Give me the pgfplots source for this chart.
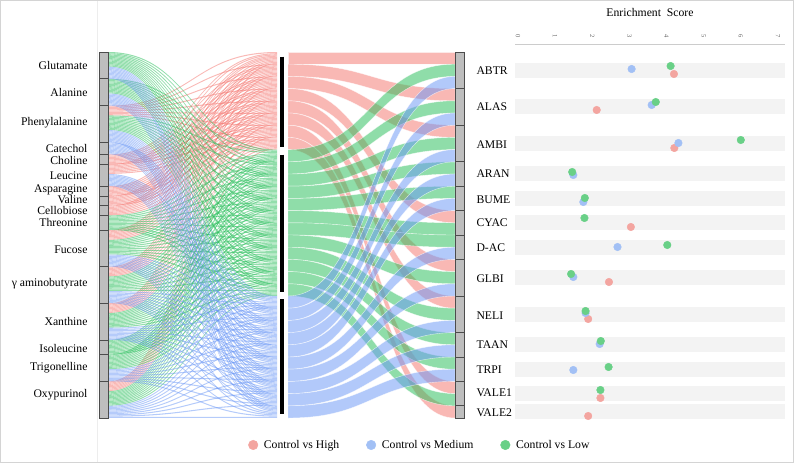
\documentclass[border=0pt]{standalone}
\usepackage{pgfplots}
\usepackage{pgfplotstable}
\pgfplotsset{compat=1.18}
\usepackage{fontspec}
\setmainfont{Liberation Serif}

\definecolor{cH}{RGB}{244,118,112}
\definecolor{cL}{RGB}{40,190,90}
\definecolor{cM}{RGB}{108,152,245}
\definecolor{dH}{RGB}{243,165,160}
\definecolor{dL}{RGB}{105,208,135}
\definecolor{dM}{RGB}{162,192,245}
\definecolor{strat}{RGB}{190,190,190}
\definecolor{band}{RGB}{243,243,243}

\newcommand\unitpx{1.22}
\newcommand\ytop{52}
\newcommand\lab{\fontsize{11.7}{13}\selectfont}

% comparison: 1 = Control vs High, 2 = Control vs Low, 3 = Control vs Medium
% metabolite -> comparison links: comparison, first line on the left, rank of metabolite in comparison
\pgfplotstableread{
comp lstart rank
1 44 0
1 84 1
1 92 2
1 110 3
1 118 4
1 126 5
1 146 6
1 176 7
1 206 8
1 270 9
2 0 0
2 22 1
2 52 2
2 134 3
2 154 4
2 184 5
2 214 6
2 236 7
2 248 8
2 278 9
3 12 0
3 34 1
3 64 2
3 74 3
3 100 4
3 166 5
3 196 6
3 226 7
3 260 8
3 290 9
}\leftlinks

% comparison -> pathway links: comparison, start in the middle, start on the right
\pgfplotstableread{
comp mstart rstart
1 0 0
1 10 30
1 20 60
1 30 130
1 40 170
1 50 200
1 60 270
1 70 290
2 80 10
2 90 40
2 100 70
2 110 90
2 120 110
2 130 140
2 140 150
2 150 180
2 160 210
2 170 230
2 180 250
2 190 280
3 200 20
3 210 50
3 220 80
3 230 100
3 240 120
3 250 160
3 260 190
3 270 220
3 280 240
3 290 260
}\rightlinks

\pgfplotstableread{
start n
0 22
22 22
44 30
74 10
84 8
92 18
110 8
118 8
126 8
134 12
146 30
176 30
206 30
236 12
248 22
270 30
}\leftstrata

\pgfplotstableread{
start n
0 30
30 30
60 30
90 20
110 20
130 20
150 20
170 30
200 30
230 20
250 20
270 20
290 10
}\rightstrata

% dot plot: row bands (height from bottom)
\pgfplotstableread{
xc xe yc
3.555 3.635 392.7
3.555 3.635 356.1
3.555 3.635 319.5
3.555 3.635 289.0
3.555 3.635 264.6
3.555 3.635 240.2
3.555 3.635 215.8
3.555 3.635 185.3
3.555 3.635 148.7
3.555 3.635 118.2
3.555 3.635 93.8
3.555 3.635 69.4
3.555 3.635 51.1
}\bands

\pgfplotstableread{
score y
4.20 389
2.12 353
4.21 315
3.04 236
2.45 181
1.89 144
2.22 65
1.89 47
}\high

\pgfplotstableread{
score y
3.06 394
3.60 358
4.32 320
1.49 288
1.76 261
2.68 216
1.49 186
1.82 150
2.20 119
1.49 93
}\medium

\pgfplotstableread{
score y
4.11 397
3.71 361
6.00 323
1.46 291
1.80 265
1.79 245
4.02 218
1.43 189
1.82 152
2.23 122
2.44 96
2.22 73
}\low

\begin{document}
\begin{tikzpicture}
\begin{axis}[
  at={(0pt,0pt)}, anchor=south west,
  scale only axis, width=794pt, height=463pt,
  xmin=0, xmax=794, ymin=0, ymax=463, y dir=reverse,
  hide axis, clip=false,
]
\pgfplotsextra{%
  \draw[black!17, line width=1.3pt] (axis cs:0.65,0.65) rectangle (axis cs:793.35,462.35);
  \draw[black!7, line width=0.6pt] (axis cs:97.5,1.3) -- (axis cs:97.5,461.7);
  % left ribbons (thin lines)
  \pgfplotstablegetrowsof{\leftlinks}\pgfmathtruncatemacro\nr{\pgfplotsretval-1}%
  \foreach \r in {0,...,\nr}{%
    \pgfplotstablegetelem{\r}{comp}\of\leftlinks\edef\cc{\pgfplotsretval}%
    \pgfplotstablegetelem{\r}{lstart}\of\leftlinks\edef\ls{\pgfplotsretval}%
    \pgfplotstablegetelem{\r}{rank}\of\leftlinks\edef\rk{\pgfplotsretval}%
    \ifcase\cc\relax\or\def\np{7}\def\ms{0}\def\col{cH}\or\def\np{11}\def\ms{80}\def\col{cL}\or\def\np{9}\def\ms{200}\def\col{cM}\fi
    \foreach \k in {0,...,\np}{%
      \pgfmathsetmacro\ya{\ytop+(\ls+\k)*\unitpx}%
      \pgfmathsetmacro\yab{\ya+1.05}%
      \pgfmathsetmacro\yb{\ytop+(\ms+10*\k+\rk)*\unitpx}%
      \pgfmathsetmacro\ybb{\yb+1.05}%
      \fill[\col, fill opacity=0.5] (axis cs:108,\ya) .. controls (axis cs:192.5,\ya) and (axis cs:192.5,\yb) .. (axis cs:277,\yb) -- (axis cs:277,\ybb) .. controls (axis cs:192.5,\ybb) and (axis cs:192.5,\yab) .. (axis cs:108,\yab) -- cycle;
    }%
  }%
  % right ribbons
  \pgfplotstablegetrowsof{\rightlinks}\pgfmathtruncatemacro\nr{\pgfplotsretval-1}%
  \foreach \r in {0,...,\nr}{%
    \pgfplotstablegetelem{\r}{comp}\of\rightlinks\edef\cc{\pgfplotsretval}%
    \pgfplotstablegetelem{\r}{mstart}\of\rightlinks\edef\ms{\pgfplotsretval}%
    \pgfplotstablegetelem{\r}{rstart}\of\rightlinks\edef\rs{\pgfplotsretval}%
    \ifcase\cc\relax\or\def\col{cH}\or\def\col{cL}\or\def\col{cM}\fi
    \pgfmathsetmacro\ya{\ytop+\ms*\unitpx}%
    \pgfmathsetmacro\yab{\ya+10*\unitpx}%
    \pgfmathsetmacro\yb{\ytop+\rs*\unitpx}%
    \pgfmathsetmacro\ybb{\yb+10*\unitpx}%
    \filldraw[fill=\col, fill opacity=0.52, draw=white, draw opacity=0.7, line width=0.4pt] (axis cs:288,\ya) .. controls (axis cs:371.5,\ya) and (axis cs:371.5,\yb) .. (axis cs:455,\yb) -- (axis cs:455,\ybb) .. controls (axis cs:371.5,\ybb) and (axis cs:371.5,\yab) .. (axis cs:288,\yab) -- cycle;
  }%
  % strata
  \foreach \r in {0,...,15}{%
    \pgfplotstablegetelem{\r}{start}\of\leftstrata\edef\s{\pgfplotsretval}%
    \pgfplotstablegetelem{\r}{n}\of\leftstrata\edef\n{\pgfplotsretval}%
    \pgfmathsetmacro\ya{\ytop+\s*\unitpx}\pgfmathsetmacro\yb{\ya+\n*\unitpx}%
    \filldraw[fill=strat, draw=black!70, line width=0.8pt] (axis cs:99.5,\ya) rectangle (axis cs:108,\yb);
  }%
  \foreach \r in {0,...,12}{%
    \pgfplotstablegetelem{\r}{start}\of\rightstrata\edef\s{\pgfplotsretval}%
    \pgfplotstablegetelem{\r}{n}\of\rightstrata\edef\n{\pgfplotsretval}%
    \pgfmathsetmacro\ya{\ytop+\s*\unitpx}\pgfmathsetmacro\yb{\ya+\n*\unitpx}%
    \filldraw[fill=strat, draw=black!70, line width=0.8pt] (axis cs:455.5,\ya) rectangle (axis cs:464,\yb);
  }%
}
\addplot[black, line width=4pt, forget plot] coordinates {(282,56.5) (282,146.5)};
\addplot[black, line width=4pt, forget plot] coordinates {(282,154.5) (282,291.5)};
\addplot[black, line width=4pt, forget plot] coordinates {(282,299) (282,414)};
% left labels
\node[anchor=east, font=\lab] at (axis cs:91,65.4) {Glutamate};
\node[anchor=east, font=\lab] at (axis cs:91,92.3) {Alanine};
\node[anchor=east, font=\lab] at (axis cs:91,123) {Phenylalanine};
\node[anchor=east, font=\lab] at (axis cs:91,148.4) {Catechol};
\node[anchor=east, font=\lab] at (axis cs:91,160) {Choline};
\node[anchor=east, font=\lab] at (axis cs:91,175.2) {Leucine};
\node[anchor=east, font=\lab] at (axis cs:91,189.5) {Asparagine};
\node[anchor=east, font=\lab] at (axis cs:91,199.5) {Valine};
\node[anchor=east, font=\lab] at (axis cs:91,210.3) {Cellobiose};
\node[anchor=east, font=\lab] at (axis cs:91,222.5) {Threonine};
\node[anchor=east, font=\lab] at (axis cs:91,249.5) {Fucose};
\node[anchor=east, font=\lab] at (axis cs:91,283.5) {γ aminobutyrate};
\node[anchor=east, font=\lab] at (axis cs:91,321) {Xanthine};
\node[anchor=east, font=\lab] at (axis cs:91,348) {Isoleucine};
\node[anchor=east, font=\lab] at (axis cs:91,367.5) {Trigonelline};
\node[anchor=east, font=\lab] at (axis cs:91,395) {Oxypurinol};
% right labels
\node[anchor=west, font=\lab] at (axis cs:473,70.3) {ABTR};
\node[anchor=west, font=\lab] at (axis cs:473,106.9) {ALAS};
\node[anchor=west, font=\lab] at (axis cs:473,145) {AMBI};
\node[anchor=west, font=\lab] at (axis cs:473,174) {ARAN};
\node[anchor=west, font=\lab] at (axis cs:473,199.4) {BUME};
\node[anchor=west, font=\lab] at (axis cs:473,222.8) {CYAC};
\node[anchor=west, font=\lab] at (axis cs:473,247.2) {D-AC};
\node[anchor=west, font=\lab] at (axis cs:473,278.7) {GLBI};
\node[anchor=west, font=\lab] at (axis cs:473,315.3) {NELI};
\node[anchor=west, font=\lab] at (axis cs:473,344.8) {TAAN};
\node[anchor=west, font=\lab] at (axis cs:473,369.2) {TRPI};
\node[anchor=west, font=\lab] at (axis cs:473,392.6) {VALE1};
\node[anchor=west, font=\lab] at (axis cs:473,412.9) {VALE2};
\end{axis}

\begin{axis}[
  at={(515pt,0pt)}, anchor=south west,
  scale only axis, width=270pt, height=419pt,
  xmin=-0.08, xmax=7.19, ymin=0, ymax=419,
  hide y axis,
  axis x line*=top,
  x axis line style={-, draw=black!20, line width=0.8pt},
  xtick={0,1,2,3,4,5,6,7},
  xtick style={draw=none},
  xticklabel shift=3pt,
  xticklabel style={rotate=-90, anchor=east, font=\fontsize{6.5}{7}\selectfont, text=black!60},
  /pgf/number format/assume math mode=true,
  clip=false,
  legend columns=3,
  legend style={at={(-0.352,0.043)}, anchor=center, draw=none, fill=none,
    font=\fontsize{11.7}{13}\selectfont,
    /tikz/every even column/.append style={column sep=25pt}},
  legend image code/.code={\draw[#1, mark size=4.8pt] plot coordinates {(0cm,0cm)}; \path (0.3cm,0cm);},
]
\addplot[mark=none, draw=none, forget plot,
  error bars/.cd, x dir=both, x explicit, error mark=none,
  error bar style={line width=15pt, draw=band}]
  table[x=xc, y=yc, x error=xe] {\bands};
\addplot[only marks, mark=*, mark size=3.8pt, color=dH] table[x=score, y=y] {\high};
\addlegendentry{Control vs High}
\addplot[only marks, mark=*, mark size=3.8pt, color=dM] table[x=score, y=y] {\medium};
\addlegendentry{Control vs Medium}
\addplot[only marks, mark=*, mark size=3.8pt, color=dL] table[x=score, y=y] {\low};
\addlegendentry{Control vs Low}
\node[font=\fontsize{11.7}{13}\selectfont] at (axis cs:3.555,450) {Enrichment\ \ Score};
\end{axis}
\end{tikzpicture}
\end{document}
